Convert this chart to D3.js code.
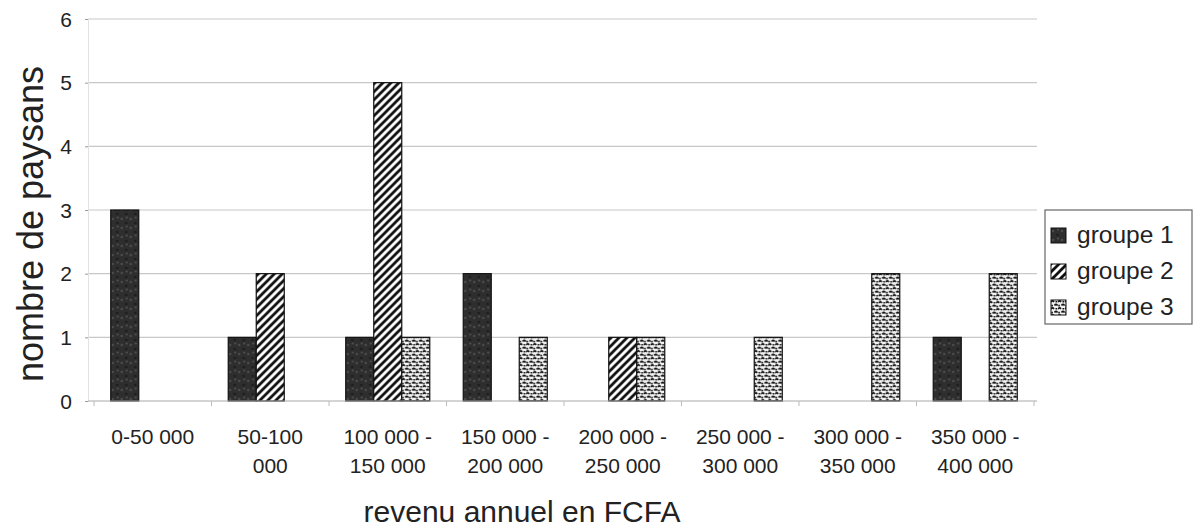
<!DOCTYPE html>
<html>
<head>
<meta charset="utf-8">
<script src="https://cdn.jsdelivr.net/npm/d3@7/dist/d3.min.js"></script>
<style>
  html, body { margin: 0; padding: 0; background: #fff; }
  svg { display: block; font-family: Arial, "Liberation Sans", sans-serif; }
</style>
</head>
<body>
<svg id="chart" width="1200" height="531"></svg>
<script>
// Income brackets (two-line labels)
const categories = [
  ["0-50 000"],
  ["50-100", "000"],
  ["100 000 -", "150 000"],
  ["150 000 -", "200 000"],
  ["200 000 -", "250 000"],
  ["250 000 -", "300 000"],
  ["300 000 -", "350 000"],
  ["350 000 -", "400 000"]
];
const seriesNames = ["groupe 1", "groupe 2", "groupe 3"];
const groupe1 = [3, 1, 1, 2, 0, 0, 0, 1];
const groupe2 = [0, 2, 5, 0, 1, 0, 0, 0];
const groupe3 = [0, 0, 1, 1, 1, 1, 2, 2];
const yTicks = [0, 1, 2, 3, 4, 5, 6];

const series = [groupe1, groupe2, groupe3];
const svg = d3.select("#chart");

const plot = { left: 94, right: 1034, top: 19, bottom: 401, gridLeft: 88, gridRight: 1037 };

// Fill patterns for the three groups
const defs = svg.append("defs");

const p1 = defs.append("pattern").attr("id", "pat1")
  .attr("patternUnits", "userSpaceOnUse").attr("width", 9).attr("height", 9);
p1.append("rect").attr("width", 9).attr("height", 9).attr("fill", "#2e2e2e");
p1.append("circle").attr("cx", 2).attr("cy", 3).attr("r", 1.2).attr("fill", "#4d4d4d");
p1.append("circle").attr("cx", 6.5).attr("cy", 7).attr("r", 1.3).attr("fill", "#1c1c1c");
p1.append("circle").attr("cx", 7).attr("cy", 1.5).attr("r", 0.9).attr("fill", "#575757");

const p2 = defs.append("pattern").attr("id", "pat2")
  .attr("patternUnits", "userSpaceOnUse").attr("width", 8).attr("height", 8);
p2.append("rect").attr("width", 8).attr("height", 8).attr("fill", "#fff");
p2.append("path").attr("d", "M-1,9 L9,-1 M-1,1 L1,-1 M7,9 L9,7")
  .attr("stroke", "#111").attr("stroke-width", 2.8);

const p3 = defs.append("pattern").attr("id", "pat3")
  .attr("patternUnits", "userSpaceOnUse").attr("width", 7).attr("height", 7);
p3.append("rect").attr("width", 7).attr("height", 7).attr("fill", "#f2f2f2");
p3.append("path").attr("d", "M0,2 q1.5,-2.2 3,0 M3.5,5.5 q1.5,-2.2 3,0 M4.5,1.8 h1.8 M0.3,5.6 h1.6")
  .attr("stroke", "#151515").attr("stroke-width", 1.6).attr("fill", "none");

const fills = ["url(#pat1)", "url(#pat2)", "url(#pat3)"];

// Scales
const x0 = d3.scaleBand()
  .domain(d3.range(categories.length))
  .range([plot.left, plot.right])
  .paddingInner(0.285).paddingOuter(0.1425);
const x1 = d3.scaleBand()
  .domain(d3.range(series.length))
  .range([0, x0.bandwidth()]);
const y = d3.scaleLinear().domain([0, 6]).range([plot.bottom, plot.top]);

// Gridlines
svg.append("g")
  .selectAll("line").data(yTicks.slice(1)).join("line")
  .attr("x1", plot.gridLeft).attr("x2", plot.gridRight)
  .attr("y1", d => y(d)).attr("y2", d => y(d))
  .attr("stroke", "#c8c8c8").attr("stroke-width", 1.2);

// Y axis
const yAxis = svg.append("g")
  .attr("transform", `translate(${plot.gridLeft},0)`)
  .call(d3.axisLeft(y).tickValues(yTicks).tickSize(3).tickFormat(d3.format("d")));
yAxis.select(".domain").attr("stroke", "#e2e2e2");
yAxis.selectAll(".tick line").attr("stroke", "#999");
yAxis.selectAll(".tick text")
  .attr("font-size", 21).attr("fill", "#222").attr("x", -16).attr("dy", "0.34em")
  .attr("font-family", "Arial, 'Liberation Sans', sans-serif");

// Bars
const groups = svg.append("g")
  .selectAll("g").data(categories.map((c, i) => i)).join("g")
  .attr("transform", i => `translate(${x0(i)},0)`);
groups.selectAll("rect")
  .data(i => series.map((s, k) => ({ k, v: s[i] })).filter(d => d.v > 0))
  .join("rect")
  .attr("x", d => x1(d.k))
  .attr("width", x1.bandwidth())
  .attr("y", d => y(d.v))
  .attr("height", d => y(0) - y(d.v))
  .attr("fill", d => fills[d.k])
  .attr("stroke", "#111").attr("stroke-width", 1.2);

// X axis
const step = x0.step();
const xAxis = svg.append("g").attr("transform", `translate(0,${plot.bottom})`);
xAxis.append("line")
  .attr("x1", plot.gridLeft).attr("x2", plot.gridRight)
  .attr("stroke", "#aaa").attr("stroke-width", 1.2);
xAxis.selectAll("line.tk").data(d3.range(categories.length + 1)).join("line")
  .attr("class", "tk")
  .attr("x1", i => plot.left + i * step).attr("x2", i => plot.left + i * step)
  .attr("y1", 0).attr("y2", 5).attr("stroke", "#bbb");
const labels = xAxis.selectAll("text").data(categories).join("text")
  .attr("text-anchor", "middle")
  .attr("font-size", 21).attr("fill", "#222")
  .attr("transform", (c, i) => `translate(${x0(i) + x0.bandwidth() / 2},0)`);
labels.selectAll("tspan").data(c => c).join("tspan")
  .attr("x", 0).attr("y", (d, j) => 43 + j * 29)
  .text(d => d);

// Axis titles
svg.append("text")
  .attr("x", 522).attr("y", 522)
  .attr("text-anchor", "middle").attr("font-size", 30).attr("fill", "#222")
  .text("revenu annuel en FCFA");
svg.append("text")
  .attr("transform", `translate(43,224) rotate(-90)`)
  .attr("text-anchor", "middle").attr("font-size", 36).attr("fill", "#222")
  .text("nombre de paysans");

// Legend
const legend = svg.append("g").attr("transform", "translate(1045,210)");
legend.append("rect").attr("width", 147).attr("height", 114)
  .attr("fill", "#fff").attr("stroke", "#666").attr("stroke-width", 1.2);
const items = legend.selectAll("g.item").data(seriesNames).join("g")
  .attr("class", "item")
  .attr("transform", (d, i) => `translate(6,${18 + i * 36})`);
items.append("rect").attr("width", 15).attr("height", 15)
  .attr("fill", (d, i) => fills[i]).attr("stroke", "#111").attr("stroke-width", 1);
items.append("text").attr("x", 26).attr("y", 15)
  .attr("font-size", 24.5).attr("fill", "#222").text(d => d);
</script>
</body>
</html>
